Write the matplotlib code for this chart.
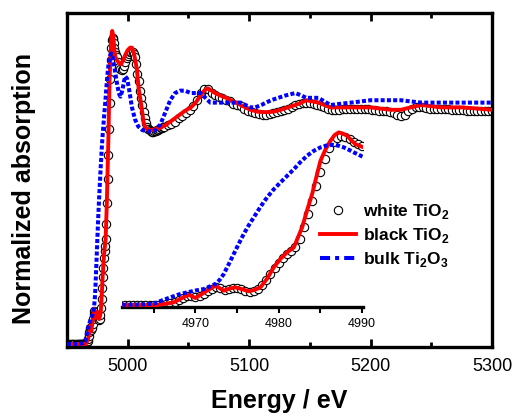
import matplotlib
matplotlib.use('Agg')
import matplotlib.pyplot as plt
from matplotlib.lines import Line2D

plt.rcParams['font.family'] = ['Liberation Sans', 'DejaVu Sans']
plt.rcParams['mathtext.fontset'] = 'custom'
plt.rcParams['mathtext.rm'] = 'Liberation Sans'
plt.rcParams['mathtext.bf'] = 'Liberation Sans:bold'

# ---------------- data ----------------
series_labels = ['white TiO$_\\mathbf{2}$', 'black TiO$_\\mathbf{2}$', 'bulk Ti$_\\mathbf{2}$O$_\\mathbf{3}$']
main_xticks = [5000, 5100, 5200, 5300]
main_minor = [5050, 5150, 5250]
inset_xticks = [4970, 4980, 4990]
inset_minor = [4965, 4975, 4985]

e_white = [4950, 4951, 4952, 4953, 4954, 4955, 4956, 4957, 4958, 4959,
           4960, 4960.5, 4961, 4961.5, 4962, 4962.5, 4963, 4963.5, 4964, 4964.5,
           4965, 4965.5, 4966, 4966.5, 4967, 4967.5, 4968, 4968.5, 4969, 4969.5,
           4970, 4970.5, 4971, 4971.5, 4972, 4972.5, 4973, 4973.5, 4974, 4974.5,
           4975, 4975.5, 4976, 4976.5, 4977, 4977.5, 4978, 4978.5, 4979, 4979.5,
           4980, 4980.5, 4981, 4981.5, 4982, 4982.5, 4983, 4983.5, 4984, 4984.5,
           4985, 4985.5, 4986, 4986.5, 4987, 4987.5, 4988, 4988.5, 4989, 4989.5,
           4990,
           4991, 4992, 4993, 4994, 4995, 4996, 4997, 4998, 4999, 5000,
           5001, 5002, 5003, 5004, 5005, 5006, 5007, 5008, 5009, 5010,
           5011, 5012, 5013, 5014, 5015, 5016, 5017, 5018, 5019, 5020,
           5021, 5022, 5023, 5024, 5025, 5026, 5027, 5028, 5029, 5030,
           5033, 5036, 5039, 5042, 5045, 5048, 5051, 5054, 5057, 5060,
           5063, 5066, 5069, 5072, 5075, 5078, 5081, 5084, 5087, 5090,
           5093, 5096, 5099, 5102, 5105, 5108, 5111, 5114, 5117, 5120,
           5123, 5126, 5129, 5132, 5135, 5138, 5141, 5144, 5147, 5150,
           5153, 5156, 5159, 5162, 5165, 5168, 5171, 5174, 5177, 5180,
           5183, 5186, 5189, 5192, 5195, 5198, 5201, 5204, 5207, 5210,
           5213, 5216, 5219, 5222, 5225, 5228, 5231, 5234, 5237, 5240,
           5243, 5246, 5249, 5252, 5255, 5258, 5261, 5264, 5267, 5270,
           5273, 5276, 5279, 5282, 5285, 5288, 5291, 5294, 5297, 5300]
a_white = [0, 0, 0, 0, 0, 0, 0, 0, 0, 0,
           0, 0, 0, 0, 0, 0, 0, 0, 0, 0,
           0, 0, .003, .008, .012, .02, .035, .05, .065, .07,
           .06, .065, .085, .105, .125, .14, .13, .115, .12, .13,
           .132, .125, .11, .10, .105, .12, .15, .19, .235, .28,
           .32, .36, .39, .41, .44, .50, .59, .69, .79, .90,
           1.01, 1.11, 1.19, 1.24, 1.27, 1.28, 1.275, 1.26, 1.24, 1.22,
           1.21,
           1.20, 1.18, 1.16, 1.15, 1.145, 1.15, 1.165, 1.18, 1.195, 1.205,
           1.215, 1.22, 1.22, 1.22, 1.215, 1.20, 1.17, 1.13, 1.10, 1.06,
           1.03, 1.00, .97, .945, .925, .91, .90, .895, .89, .888,
           .888, .89, .892, .895, .897, .90, .902, .905, .907, .91,
           .915, .92, .93, .945, .955, .965, .98, .995, 1.02, 1.05,
           1.065, 1.065, 1.05, 1.04, 1.035, 1.03, 1.02, 1.015, 1.005, 1.00,
           .995, .985, .975, .97, .965, .962, .96, .96, .962, .965,
           .97, .975, .98, .985, .99, 1.0, 1.005, 1.01, 1.01, 1.01,
           1.005, 1.0, .995, .99, .985, .98, .98, .98, .982, .985,
           .985, .985, .985, .985, .985, .982, .98, .978, .975, .975,
           .975, .97, .965, .96, .955, .96, .975, .985, .99, .99,
           .99, .988, .985, .985, .985, .985, .985, .982, .98, .98,
           .98, .978, .976, .975, .975, .975, .975, .975, .975, .975]

e_black = [4950, 4958, 4963, 4965.4, 4966.5, 4967.4, 4968.3, 4969.2, 4970.0, 4970.7,
           4971.4, 4972.4, 4973.4, 4974.1, 4974.8, 4975.6, 4976.4, 4977.1, 4977.8, 4978.6,
           4979.4, 4980.2, 4981.0, 4981.8, 4982.8, 4983.4, 4984.0, 4984.5, 4985.0, 4985.6,
           4986.2, 4986.7, 4987.2, 4987.7, 4988.2, 4988.7, 4989.2, 4990.2, 4991.5, 4993,
           4994.5, 4996, 4998, 5000, 5002, 5003.5, 5005, 5006.5, 5007.6, 5009,
           5010.5, 5011.7, 5013, 5014.5, 5017, 5020, 5023, 5027, 5031, 5035,
           5039, 5043, 5047, 5052, 5056, 5060, 5063, 5066, 5069, 5072,
           5076, 5081, 5085, 5089, 5095, 5101, 5107, 5114, 5120, 5126,
           5132, 5138, 5143, 5147, 5152, 5157, 5162, 5167, 5175, 5184,
           5192, 5200, 5208, 5217, 5225, 5233, 5242, 5250, 5258, 5266,
           5275, 5288, 5300]
a_black = [0, 0, 0, 0, .01, .02, .05, .078, .053, .08,
           .109, .147, .109, .125, .134, .12, .104, .115, .134, .20,
           .286, .35, .40, .437, .589, .72, .842, .97, 1.095, 1.18,
           1.247, 1.29, 1.31, 1.30, 1.284, 1.25, 1.22, 1.196, 1.185, 1.175,
           1.17, 1.185, 1.21, 1.23, 1.24, 1.24, 1.22, 1.18, 1.146, 1.07,
           1.02, .98, .93, .905, .895, .895, .90, .905, .915, .93,
           .945, .96, .975, .99, 1.01, 1.04, 1.06, 1.07, 1.06, 1.05,
           1.04, 1.03, 1.02, 1.01, .995, .98, .972, .97, .972, .98,
           .99, 1.00, 1.01, 1.02, 1.015, 1.01, 1.00, .99, .99, .99,
           .99, .99, .985, .98, .98, .99, 1.00, .995, .99, .99,
           .99, .985, .98]

e_bulk = [4950, 4958, 4963, 4965, 4966, 4967, 4968, 4969, 4970, 4971,
          4971.7, 4972.4, 4972.9, 4973.4, 4974.0, 4974.6, 4975.2, 4975.8, 4976.4, 4977.0,
          4977.8, 4978.6, 4979.4, 4980.2, 4981.0, 4981.8, 4982.6, 4983.4, 4984.2, 4985.0,
          4985.7, 4986.4, 4987.1, 4987.8, 4988.4, 4989.0, 4989.6, 4990.2, 4991.5, 4993,
          4994, 4995.5, 4997, 4998, 4999.5, 5001, 5003.5, 5006, 5008.7, 5012,
          5016, 5020, 5023, 5027, 5031, 5035, 5039, 5043, 5047, 5052,
          5056, 5060, 5064, 5068, 5074, 5081, 5087, 5093, 5101, 5105,
          5110, 5114, 5118, 5124, 5130, 5134, 5138, 5143, 5147, 5152,
          5157, 5162, 5167, 5175, 5184, 5192, 5200, 5212, 5225, 5233,
          5242, 5250, 5258, 5270, 5283, 5300]
a_bulk = [0, 0, .003, .01, .035, .058, .08, .096, .11, .121,
          .14, .16, .19, .235, .31, .387, .465, .539, .605, .665,
          .745, .817, .878, .93, .98, 1.03, 1.085, 1.133, 1.17, 1.196,
          1.21, 1.216, 1.21, 1.196, 1.178, 1.158, 1.14, 1.12, 1.08, 1.045,
          1.035, 1.06, 1.10, 1.12, 1.11, 1.07, .99, .94, .91, .895,
          .89, .89, .895, .92, .97, 1.02, 1.05, 1.06, 1.06, 1.05,
          1.05, 1.05, 1.03, 1.01, 1.01, 1.01, 1.01, 1.01, .99, .99,
          1.00, 1.01, 1.02, 1.03, 1.04, 1.045, 1.05, 1.04, 1.03, 1.03,
          1.03, 1.015, 1.00, 1.005, 1.01, 1.015, 1.02, 1.02, 1.02, 1.015,
          1.01, 1.01, 1.01, 1.01, 1.01, 1.01]

# ---------------- figure ----------------
W, H = 517, 420
fig = plt.figure(figsize=(W / 100, H / 100), dpi=100)

blue_ls = (0, (1.0, 0.55))
mk = dict(ls='none', marker='o', ms=6, mfc='white', mec='black', mew=0.8)

def draw(ax):
    ax.plot(e_white, a_white, zorder=2, **mk)
    ax.plot(e_black, a_black, color='red', lw=2.8, zorder=3)
    ax.plot(e_bulk, a_bulk, color='blue', lw=2.9, ls=blue_ls,
            dash_capstyle='butt', zorder=4)

ax = fig.add_axes([67 / W, (H - 347) / H, 425 / W, 334 / H])
draw(ax)
ax.set_xlim(4950, 5300)
ax.set_ylim(-0.0126, 1.385)
ax.set_xticks(main_xticks)
ax.set_xticks(main_minor, minor=True)
ax.set_yticks([])
ax.tick_params(axis='x', which='both', direction='in', top=True, bottom=True,
               labelsize=13, pad=8, width=2)
ax.tick_params(axis='x', which='major', length=6)
ax.tick_params(axis='x', which='minor', length=3.5)
for s in ax.spines.values():
    s.set_linewidth(2.4)
ax.set_xlabel('Energy / eV', fontsize=18, fontweight='bold', labelpad=10)
fig.text(24 / W, 1 - 188 / H, 'Normalized absorption', rotation=90,
         ha='center', va='center', fontsize=18, fontweight='bold')

axin = fig.add_axes([122 / W, (H - 307) / H, 241 / W, 182 / H])
axin.patch.set_visible(False)
draw(axin)
axin.set_xlim(4961.2, 4990.1)
axin.set_ylim(-0.015, 1.366)
axin.set_xticks(inset_xticks)
axin.set_xticks(inset_minor, minor=True)
axin.set_yticks([])
for k in ['top', 'left', 'right']:
    axin.spines[k].set_visible(False)
axin.spines['bottom'].set_linewidth(2.4)
axin.tick_params(axis='x', which='both', direction='out', length=4, width=1.5,
                 labelsize=9, pad=4)

handles = [Line2D([], [], **mk),
           Line2D([], [], color='red', lw=2.8),
           Line2D([], [], color='blue', lw=2.9, ls=(0, (2.5, 1.25, 1, 1.25)),
                  dash_capstyle='butt')]
fig.legend(handles, series_labels, loc='upper left',
           bbox_to_anchor=(320 / W, 1 - 202 / H), frameon=False,
           prop={'weight': 'bold', 'size': 12.5}, handlelength=2.1,
           handletextpad=0.4, labelspacing=0.3, borderpad=0, borderaxespad=0,
           numpoints=1)

fig.savefig('out.png', dpi=100)
